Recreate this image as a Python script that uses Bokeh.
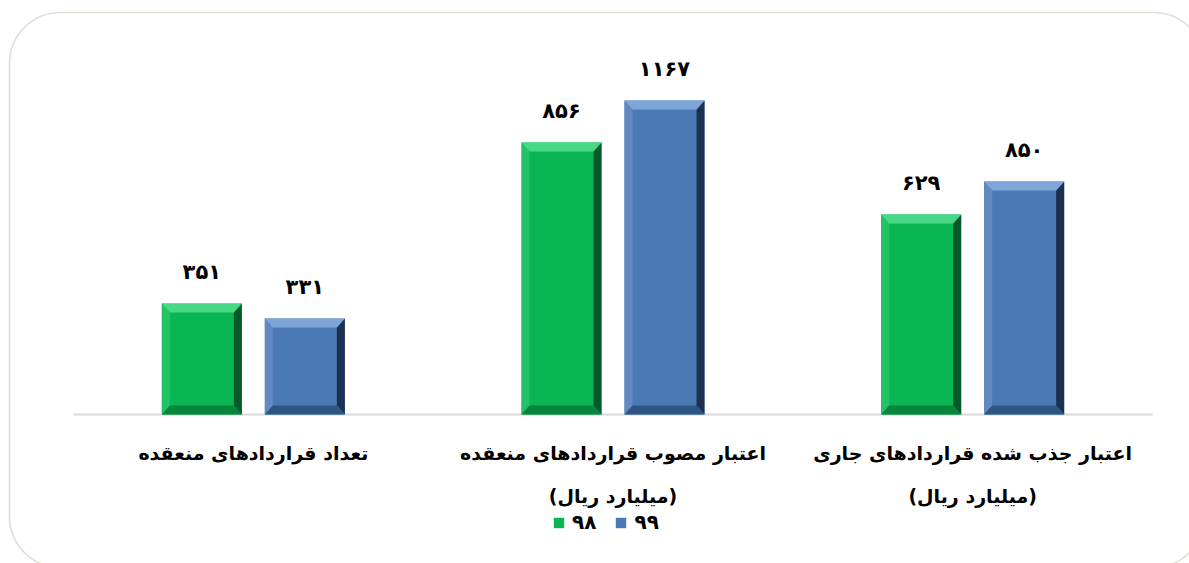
from bokeh.plotting import figure
from bokeh.models import Range1d, BoxAnnotation, Legend, LegendItem, ColumnDataSource
from bokeh.core.properties import value
from bokeh.embed import file_html
from bokeh.resources import INLINE

# ---------------- data ----------------
categories = ["تعداد قراردادهای منعقده",
              "اعتبار مصوب قراردادهای منعقده",
              "اعتبار جذب شده قراردادهای جاری"]
cat_line2 = ["", "(میلیارد ریال)", "(میلیارد ریال)"]
series = ["۹۸", "۹۹"]
values_98 = [351, 856, 629]     # printed values
values_99 = [331, 1167, 850]
bar_98 = [111, 272, 200]        # bar heights as drawn (chart's own hidden scale)
bar_99 = [96, 314, 233]

# ---------------- layout / style ----------------
FIG_W, FIG_H = 1189, 563
PAGE_X0, PAGE_Y0 = 0, 0
PLOT_L, PLOT_R = 73, 1152        # px of category band
BASE_Y = 414                     # px of baseline
CW = (PLOT_R - PLOT_L) / len(categories)   # px per category

x_start = -(PLOT_L - PAGE_X0) / CW
x_end = x_start + FIG_W / CW
y_start = -(PAGE_Y0 + FIG_H - BASE_Y)
y_end = y_start + FIG_H

def xd(px):
    return x_start + (px - PAGE_X0) / CW

def yd(py):
    return BASE_Y - py

FONT = "DejaVu Sans"
BAR_W = 80 / CW
OFF = 51.5 / CW
BX = 8 / CW
BY = 9

styles = {
    "98": dict(face="#0ab554", top="#46d884", left="#22c267", right="#045a2b", bottom="#07853d"),
    "99": dict(face="#4a7ab4", top="#7ea6d8", left="#628ac0", right="#1c3150", bottom="#2e5483"),
}

to_fa = str.maketrans("0123456789", "۰۱۲۳۴۵۶۷۸۹")

p = figure(width=FIG_W, height=FIG_H,
           x_range=Range1d(x_start, x_end), y_range=Range1d(y_start, y_end),
           output_backend="svg", toolbar_location=None,
           x_axis_location=None, y_axis_location=None,
           min_border=0, outline_line_color=None)
p.grid.visible = False
p.background_fill_color = "white"
p.border_fill_color = "white"

# rounded frame
frame = BoxAnnotation(left=xd(9), right=xd(1204), top=yd(12), bottom=yd(567),
                      border_radius=51, fill_alpha=0,
                      line_color="#8a9c73", line_width=1.6)
p.add_layout(frame)

# baseline
p.segment(x0=[0], y0=[0], x1=[len(categories)], y1=[0],
          line_color="#d9d9d9", line_width=2)

renderers = {}
for key, heights, vals, sign in (("98", bar_98, values_98, -1), ("99", bar_99, values_99, 1)):
    st = styles[key]
    xc = [i + 0.5 + sign * OFF for i in range(len(categories))]
    src = ColumnDataSource(dict(x=xc, top=heights,
                                label=[str(v).translate(to_fa) for v in vals]))
    r = p.vbar(x="x", top="top", bottom=0, width=BAR_W, source=src,
               fill_color=st["face"], line_color=None)
    renderers[key] = r
    tops_x, tops_y, lx, ly, rx, ry, bx_, by_ = [], [], [], [], [], [], [], []
    for x, h in zip(xc, heights):
        x0, x1 = x - BAR_W / 2, x + BAR_W / 2
        tops_x.append([x0, x1, x1 - BX, x0 + BX]); tops_y.append([h, h, h - BY, h - BY])
        lx.append([x0, x0, x0 + BX, x0 + BX]); ly.append([0, h, h - BY, BY])
        rx.append([x1, x1, x1 - BX, x1 - BX]); ry.append([0, h, h - BY, BY])
        bx_.append([x0, x1, x1 - BX, x0 + BX]); by_.append([0, 0, BY, BY])
    p.patches(lx, ly, fill_color=st["left"], line_color=None)
    p.patches(rx, ry, fill_color=st["right"], line_color=None)
    p.patches(bx_, by_, fill_color=st["bottom"], line_color=None)
    p.patches(tops_x, tops_y, fill_color=st["top"], line_color=None)
    p.text(x="x", y="top", text="label", source=src, y_offset=-32,
           text_align="center", text_baseline="alphabetic",
           text_font=value(FONT), text_font_style="bold",
           text_font_size="21px", text_color="black")

# category labels
cx = [i + 0.5 for i in range(len(categories))]
p.text(x=cx, y=[0] * len(cx), text=categories, y_offset=38,
       text_align="center", text_baseline="middle",
       text_font=value(FONT), text_font_style="bold",
       text_font_size="19px", text_color="black")
p.text(x=cx, y=[0] * len(cx), text=cat_line2, y_offset=81,
       text_align="center", text_baseline="middle",
       text_font=value(FONT), text_font_style="bold",
       text_font_size="19px", text_color="black")

legend = Legend(items=[LegendItem(label=series[0], renderers=[renderers["98"]]),
                       LegendItem(label=series[1], renderers=[renderers["99"]])],
                orientation="horizontal", location=(552, 29),
                glyph_width=13, glyph_height=13, label_standoff=7, spacing=18,
                padding=0, margin=0, border_line_color=None, background_fill_alpha=0,
                label_text_font=FONT, label_text_font_style="bold",
                label_text_font_size="20px", label_text_color="black")
p.add_layout(legend, "center")

open("out.html", "w").write(file_html(p, INLINE))
